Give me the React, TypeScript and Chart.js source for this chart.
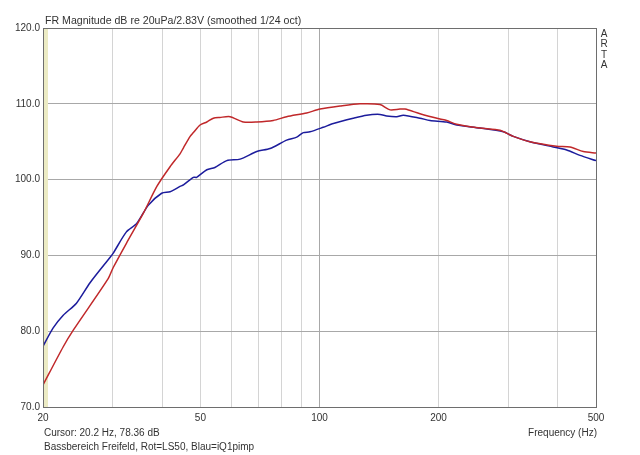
import React, { useEffect, useRef } from "react";
import { Chart, registerables } from "chart.js";

Chart.register(...registerables);

const redFreq = [20, 22.5, 23.9, 29.2, 30.1, 32.5, 35.9, 38.8, 41.9, 44.4, 45.3, 47.1, 48.0, 49.9, 51.9, 53.9, 56.0, 59.4, 64.2, 69.4, 76.4, 82.6, 92.8, 100.3, 112.7, 126.6, 142.2, 150.8, 159.8, 164.5, 179.5, 201.6, 209.6, 222.2, 254.4, 286, 309, 340.4, 397.6, 429.8, 464.4, 500];
const redDb = [72.9, 77.95, 80.2, 86.9, 88.4, 91.6, 95.6, 99.1, 101.7, 103.4, 104.2, 105.7, 106.2, 107.2, 107.6, 108.1, 108.2, 108.3, 107.6, 107.6, 107.8, 108.3, 108.8, 109.3, 109.7, 110.0, 109.9, 109.2, 109.3, 109.3, 108.7, 108.0, 107.8, 107.3, 106.8, 106.5, 105.7, 105.0, 104.4, 104.3, 103.7, 103.5];

const blueFreq = [20, 21.2, 22.5, 24.3, 26.3, 29.5, 30.1, 32.5, 34.5, 36.9, 39.9, 41.9, 44.4, 45.3, 48.0, 48.9, 51.9, 54.4, 58.3, 63.0, 69.4, 75.0, 82.6, 87.6, 91.0, 94.6, 102.2, 108.4, 121.7, 131.6, 142.2, 147.8, 156.8, 162.9, 179.5, 190.3, 209.6, 222.2, 254.4, 291.4, 309, 340.4, 389.8, 421.6, 455.6, 500];
const blueDb = [78.0, 80.4, 82.1, 83.7, 86.4, 89.7, 90.3, 93.1, 94.2, 96.6, 98.2, 98.4, 99.1, 99.3, 100.3, 100.3, 101.3, 101.6, 102.5, 102.7, 103.7, 104.1, 105.2, 105.6, 106.2, 106.3, 106.9, 107.4, 108.1, 108.5, 108.6, 108.4, 108.3, 108.5, 108.1, 107.8, 107.6, 107.2, 106.8, 106.3, 105.7, 105.0, 104.3, 103.9, 103.2, 102.5];

const gridFreqs = [20, 30, 40, 50, 60, 70, 80, 90, 100, 200, 300, 400, 500];
const labelFreqs = [20, 50, 100, 200, 500];

const titleText = "FR Magnitude dB re 20uPa/2.83V (smoothed 1/24 oct)";
const cursorText = "Cursor: 20.2 Hz, 78.36 dB";
const noteText = "Bassbereich Freifeld, Rot=LS50, Blau=iQ1pimp";
const xAxisText = "Frequency (Hz)";
const brandLetters = ["A", "R", "T", "A"];

const FAMILY = "'Liberation Sans', Arial, sans-serif";
const FONT = "10px " + FAMILY;
const TITLE_FONT = "10.6px " + FAMILY;
const TEXT = "#333333";

const decorPlugin = {
  id: "decor",
  beforeDatasetsDraw(chart: any) {
    const { ctx, chartArea: a } = chart;
    ctx.save();
    ctx.fillStyle = "#ecebc4";
    ctx.fillRect(a.left + 1, a.top, 4, a.bottom - a.top);
    ctx.restore();
  },
  afterDraw(chart: any) {
    const { ctx, chartArea: a } = chart;
    ctx.save();
    ctx.strokeStyle = "#6e6e6e";
    ctx.lineWidth = 1;
    ctx.strokeRect(Math.round(a.left) + 0.5, Math.round(a.top) + 0.5, Math.round(a.right - a.left), Math.round(a.bottom - a.top));
    ctx.fillStyle = TEXT;
    ctx.textBaseline = "middle";
    ctx.textAlign = "left";
    ctx.font = TITLE_FONT;
    ctx.fillText(titleText, a.left + 2, 21);
    ctx.font = FONT;
    ctx.fillText(cursorText, a.left + 1, 433);
    ctx.fillText(noteText, a.left + 1, 447);
    ctx.textAlign = "right";
    ctx.fillText(xAxisText, a.right + 1, 433);
    ctx.textAlign = "center";
    brandLetters.forEach((l, i) => ctx.fillText(l, a.right + 8, 34 + i * 10.5));
    ctx.restore();
  },
};

export default function App() {
  const ref = useRef<HTMLCanvasElement | null>(null);
  useEffect(() => {
    if (!ref.current) return;
    const chart = new Chart(ref.current, {
      type: "line",
      data: {
        datasets: [
          {
            label: "LS50",
            data: redFreq.map((f, i) => ({ x: f, y: redDb[i] })),
            borderColor: "#c0282a",
            borderWidth: 1.5,
            pointRadius: 0,
            tension: 0.25,
          },
          {
            label: "iQ1pimp",
            data: blueFreq.map((f, i) => ({ x: f, y: blueDb[i] })),
            borderColor: "#1c1c9c",
            borderWidth: 1.5,
            pointRadius: 0,
            tension: 0.25,
          },
        ],
      },
      options: {
        animation: false,
        responsive: false,
        devicePixelRatio: 1,
        layout: { padding: { left: 0, top: 28, right: 44, bottom: 0 } },
        plugins: { legend: { display: false }, tooltip: { enabled: false } },
        scales: {
          x: {
            type: "logarithmic",
            min: 20,
            max: 500,
            afterFit: (s: any) => {
              s.height = 48;
            },
            afterBuildTicks: (s: any) => {
              s.ticks = gridFreqs.map((v) => ({ value: v }));
            },
            ticks: {
              autoSkip: false,
              maxRotation: 0,
              padding: 5,
              color: TEXT,
              font: { family: FAMILY, size: 10 },
              callback: (v: any) => (labelFreqs.includes(Number(v)) ? String(v) : ""),
            },
            grid: {
              drawTicks: false,
              color: (c: any) => (c.tick && c.tick.value === 100 ? "#a8a8a8" : "#d4d4d4"),
            },
            border: { display: false },
          },
          y: {
            type: "linear",
            min: 70,
            max: 120,
            afterFit: (s: any) => {
              s.width = 43;
            },
            ticks: {
              stepSize: 10,
              padding: 3,
              color: TEXT,
              font: { family: FAMILY, size: 10 },
              callback: (v: any) => Number(v).toFixed(1),
            },
            grid: { drawTicks: false, color: "#a8a8a8" },
            border: { display: false },
          },
        },
      },
      plugins: [decorPlugin],
    });
    return () => chart.destroy();
  }, []);
  return (
    <div style={{ position: "fixed", left: 0, top: 0, width: 640, height: 455, background: "#fff" }}>
      <canvas ref={ref} width={640} height={455} style={{ width: 640, height: 455 }} />
    </div>
  );
}
